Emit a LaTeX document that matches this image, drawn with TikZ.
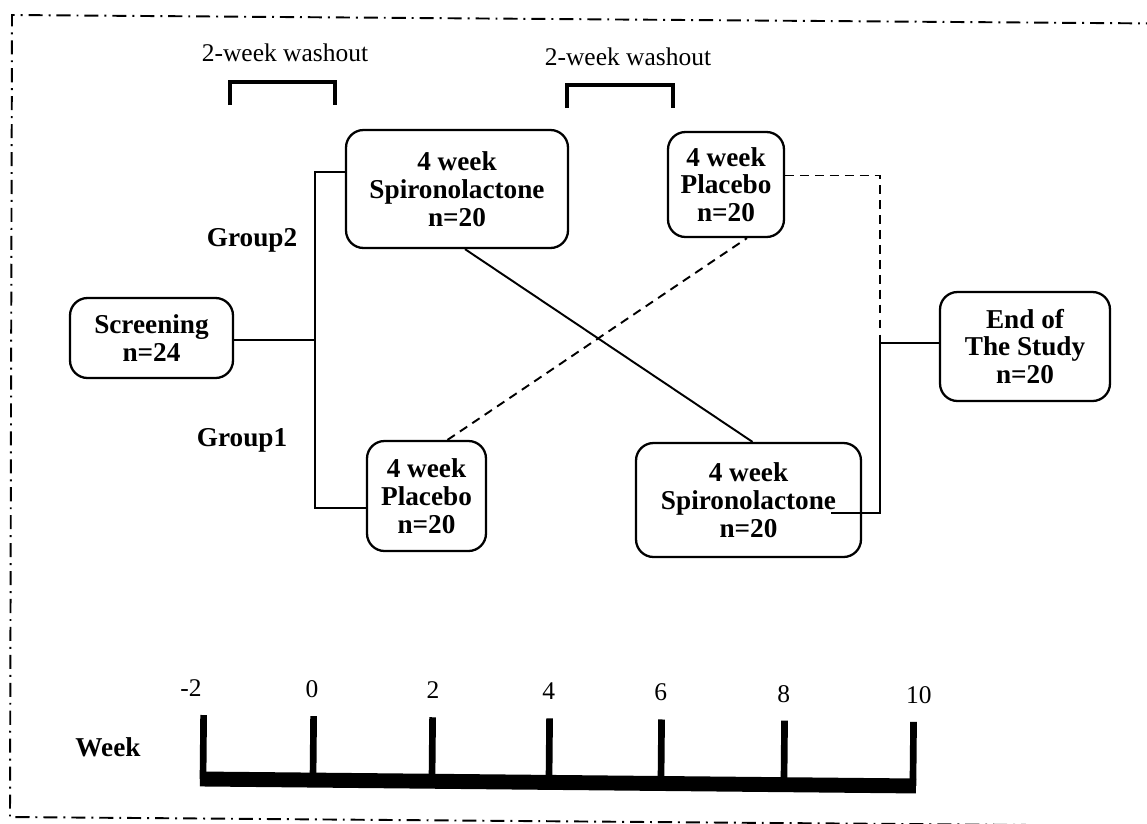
\documentclass[tikz,border=0pt]{standalone}
\usepackage{fontspec}
\setmainfont{Liberation Serif}
\usetikzlibrary{calc,positioning}

\begin{document}
\begin{tikzpicture}[x=0.02cm,y=-0.02cm,
        font=\fontsize{14.5}{15.6}\selectfont,
        boldlbl/.style={font=\bfseries\fontsize{15.5}{15.8}\selectfont},
        arm/.style={line width=1.1pt},
        armdash/.style={arm,dash pattern=on 5pt off 3.5pt},
        washbracket/.style={line width=2.6pt},
        weektick/.style={line width=3.8pt}]
        \useasboundingbox (0,0) rectangle (1147,823);

        %frame
        \draw[line width=1.1pt,dash pattern=on 8pt off 3.4pt on 1.1pt off 3.4pt]
            (1160,23.5) -- (12,15) -- (10,817) -- (1160,826);

        %nodes
        \begin{scope}[every node/.style={draw,rounded corners=0.35cm,line width=1.3pt,align=center,inner sep=0pt,boldlbl}]
            \node[minimum width=3.26cm,minimum height=1.6cm] (scr) at (151.5,338) {Screening\\n=24};
            \node[minimum width=4.44cm,minimum height=2.36cm] (spT) at (457,189) {4 week\\Spironolactone\\n=20};
            \node[minimum width=2.32cm,minimum height=2.1cm] (plT) at (726,184.5) {4 week\\Placebo\\n=20};
            \node[minimum width=2.38cm,minimum height=2.2cm] (plB) at (426.5,496) {4 week\\Placebo\\n=20};
            \node[minimum width=4.5cm,minimum height=2.28cm] (spB) at (748.5,500) {4 week\\Spironolactone\\n=20};
            \node[minimum width=3.4cm,minimum height=2.18cm] (fin) at (1025,346.5) {End of\\The Study\\n=20};
        \end{scope}

        %labels
        \node[boldlbl] (g2) at (252,240) {Group2};
        \node[boldlbl] (g1) at (242,440) {Group1};
        \node (wash1) at (285,53) {2-week washout};
        \node (wash2) at (628,57) {2-week washout};
        \draw[washbracket] (230,105) -- (230,82) -- (335,82) -- (335,105);
        \draw[washbracket] (567,108) -- (567,85) -- (673,85) -- (673,108);

        %arms
        \coordinate (split) at (315,340);
        \draw[arm] (scr.east |- split) -- (split);
        \draw[arm] ([shift={(0,-17)}]spT.west) -| (split) |- ([shift={(0,12)}]plB.west);
        \draw[arm] ([shift={(8,0)}]spT.south) -- ([shift={(4,0)}]spB.north);
        \draw[armdash] ([shift={(21,0)}]plB.north) -- ([shift={(21,0)}]plT.south);
        \coordinate (merge) at (880,343);
        \draw[armdash] ([shift={(0,-9)}]plT.east) -| (merge);
        \draw[arm] ([shift={(-31,13)}]spB.east) -| (merge) -- (merge -| fin.west);

        %week axis
        \node[boldlbl] (wk) at (108,747) {Week};
        \begin{scope}[rotate around={-0.56:(203,779)}]
            \draw[line width=8.5pt] (200,779) -- (916,779);
            \foreach \x/\lx/\w in {203/190/-2,313/311/0,432/432/2,549/548/4,661/660/6,784/783/8,913/918/10}{
                \draw[weektick] (\x,715) -- (\x,779);
                \node (lbl\x) at (\lx,688) {\w};
            }
        \end{scope}
\end{tikzpicture}
\end{document}
